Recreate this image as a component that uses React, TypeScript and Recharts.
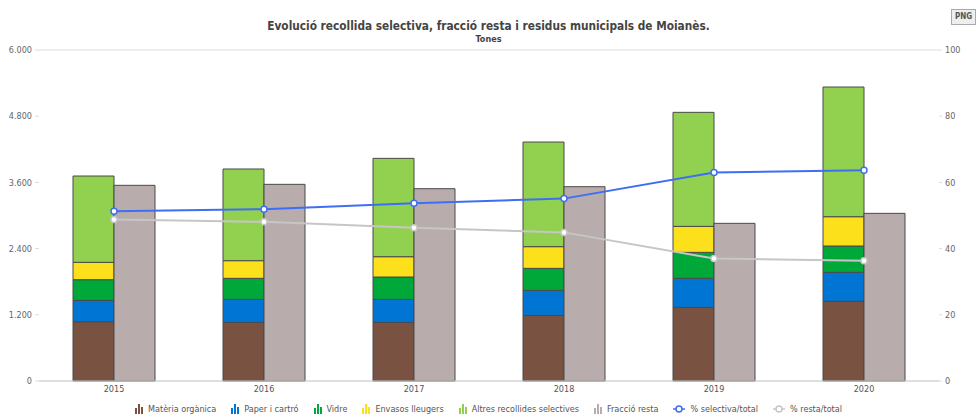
import React from "react";
import {
  ComposedChart,
  Bar,
  Line,
  XAxis,
  YAxis,
  CartesianGrid,
} from "recharts";

const years = ["2015", "2016", "2017", "2018", "2019", "2020"];
const organica = [1075, 1063, 1063, 1190, 1335, 1444];
const paper = [387, 417, 417, 453, 526, 526];
const vidre = [375, 381, 405, 399, 471, 477];
const envasos = [314, 320, 368, 393, 471, 531];
const altres = [1565, 1662, 1783, 1897, 2067, 2351];
const resta = [3547, 3565, 3486, 3522, 2858, 3039];
const pctSelectiva = [51.3, 51.9, 53.7, 55.1, 63.0, 63.7];
const pctResta = [48.8, 48.1, 46.3, 44.9, 37.0, 36.3];

const leftTicks = [0, 1200, 2400, 3600, 4800, 6000];
const rightTicks = [0, 20, 40, 60, 80, 100];

const FONT = "'DejaVu Sans Condensed', 'DejaVu Sans', sans-serif";

const COLORS = {
  organica: "#7a5241",
  paper: "#0075d4",
  vidre: "#00a83a",
  envasos: "#fde01c",
  altres: "#92d150",
  resta: "#b8adac",
  selectiva: "#3e6ef3",
  restaLine: "#c6c6c6",
};

const data = years.map((year, i) => ({
  year,
  organica: organica[i],
  paper: paper[i],
  vidre: vidre[i],
  envasos: envasos[i],
  altres: altres[i],
  resta: resta[i],
  pctSelectiva: pctSelectiva[i],
  pctResta: pctResta[i],
}));

const legendItems = [
  { label: "Matèria orgànica", color: COLORS.organica, kind: "bar" },
  { label: "Paper i cartró", color: COLORS.paper, kind: "bar" },
  { label: "Vidre", color: COLORS.vidre, kind: "bar" },
  { label: "Envasos lleugers", color: COLORS.envasos, kind: "bar" },
  { label: "Altres recollides selectives", color: COLORS.altres, kind: "bar" },
  { label: "Fracció resta", color: COLORS.resta, kind: "bar" },
  { label: "% selectiva/total", color: COLORS.selectiva, kind: "line" },
  { label: "% resta/total", color: COLORS.restaLine, kind: "line" },
];

const fmtThousands = (v: number) =>
  v.toString().replace(/\B(?=(\d{3})+(?!\d))/g, ".");

function LegendIcon({ color, kind }: { color: string; kind: string }) {
  if (kind === "line") {
    return (
      <svg width={12} height={10} style={{ display: "block" }}>
        <line x1={0} y1={5} x2={12} y2={5} stroke={color} strokeWidth={1.5} />
        <circle cx={6} cy={5} r={3} fill="#fff" stroke={color} strokeWidth={1.5} />
      </svg>
    );
  }
  return (
    <svg width={8} height={10} style={{ display: "block" }}>
      <rect x={0} y={4} width={2} height={6} fill={color} />
      <rect x={3} y={0} width={2} height={10} fill={color} />
      <rect x={6} y={3} width={2} height={7} fill={color} />
    </svg>
  );
}

function ChartLegend() {
  return (
    <div
      style={{
        position: "absolute",
        top: 403,
        left: 0,
        width: 977,
        display: "flex",
        justifyContent: "center",
        gap: 15,
        fontFamily: FONT,
        fontSize: 9,
        color: "#555",
        lineHeight: "12px",
      }}
    >
      {legendItems.map((it) => (
        <div key={it.label} style={{ display: "flex", alignItems: "center", gap: 5 }}>
          <LegendIcon color={it.color} kind={it.kind} />
          <span>{it.label}</span>
        </div>
      ))}
    </div>
  );
}

const barStroke = "#4a4a4a";

export default function App() {
  return (
    <div
      style={{
        position: "absolute",
        left: 0,
        top: 0,
        width: 977,
        height: 418,
        background: "#fff",
        fontFamily: FONT,
      }}
    >
      <div
        style={{
          position: "absolute",
          top: 19,
          left: 0,
          width: 977,
          textAlign: "center",
          fontSize: 11.75,
          fontWeight: "bold",
          color: "#444",
        }}
      >
        Evolució recollida selectiva, fracció resta i residus municipals de Moianès.
      </div>
      <div
        style={{
          position: "absolute",
          top: 34,
          left: 0,
          width: 977,
          textAlign: "center",
          fontSize: 9,
          fontWeight: "bold",
          color: "#444",
        }}
      >
        Tones
      </div>
      <div
        style={{
          position: "absolute",
          top: 9,
          left: 951,
          width: 23,
          height: 14,
          border: "1px solid #aaa",
          background: "#eee",
          fontSize: 8,
          fontWeight: "bold",
          color: "#555",
          textAlign: "center",
          lineHeight: "14px",
        }}
      >
        PNG
      </div>
      <ComposedChart
        width={977}
        height={418}
        data={data}
        margin={{ top: 50, right: 0, bottom: 0, left: 0 }}
        barGap={0}
        style={{ position: "absolute", left: 0, top: 0 }}
      >
        <CartesianGrid vertical={false} stroke="#dcdcdc" />
        <XAxis
          dataKey="year"
          axisLine={{ stroke: "#d0d0d0" }}
          tickLine={false}
          tickSize={0}
          tickMargin={5}
          tick={{ fontSize: 9, fill: "#555", fontFamily: FONT }}
          height={37}
        />
        <YAxis
          yAxisId="left"
          domain={[0, 6000]}
          ticks={leftTicks}
          tickFormatter={fmtThousands}
          width={39}
          axisLine={false}
          tickLine={{ stroke: "#dcdcdc" }}
          tickSize={4}
          tickMargin={3}
          tick={{ fontSize: 9, fill: "#666", fontFamily: FONT }}
        />
        <YAxis
          yAxisId="right"
          orientation="right"
          domain={[0, 100]}
          ticks={rightTicks}
          width={38}
          axisLine={false}
          tickLine={{ stroke: "#dcdcdc" }}
          tickSize={3}
          tickMargin={3}
          tick={{ fontSize: 9, fill: "#666", fontFamily: FONT }}
        />
        <Bar yAxisId="left" dataKey="organica" stackId="sel" barSize={41} fill={COLORS.organica} stroke={barStroke} isAnimationActive={false} />
        <Bar yAxisId="left" dataKey="paper" stackId="sel" barSize={41} fill={COLORS.paper} stroke={barStroke} isAnimationActive={false} />
        <Bar yAxisId="left" dataKey="vidre" stackId="sel" barSize={41} fill={COLORS.vidre} stroke={barStroke} isAnimationActive={false} />
        <Bar yAxisId="left" dataKey="envasos" stackId="sel" barSize={41} fill={COLORS.envasos} stroke={barStroke} isAnimationActive={false} />
        <Bar yAxisId="left" dataKey="altres" stackId="sel" barSize={41} fill={COLORS.altres} stroke={barStroke} isAnimationActive={false} />
        <Bar yAxisId="left" dataKey="resta" barSize={41} fill={COLORS.resta} stroke={barStroke} isAnimationActive={false} />
        <Line
          yAxisId="right"
          dataKey="pctSelectiva"
          stroke={COLORS.selectiva}
          strokeWidth={2}
          dot={{ r: 3, fill: "#fff", stroke: COLORS.selectiva, strokeWidth: 1.5 }}
          isAnimationActive={false}
        />
        <Line
          yAxisId="right"
          dataKey="pctResta"
          stroke={COLORS.restaLine}
          strokeWidth={2}
          dot={{ r: 3, fill: "#fff", stroke: COLORS.restaLine, strokeWidth: 1.5 }}
          isAnimationActive={false}
        />
      </ComposedChart>
      <ChartLegend />
    </div>
  );
}
